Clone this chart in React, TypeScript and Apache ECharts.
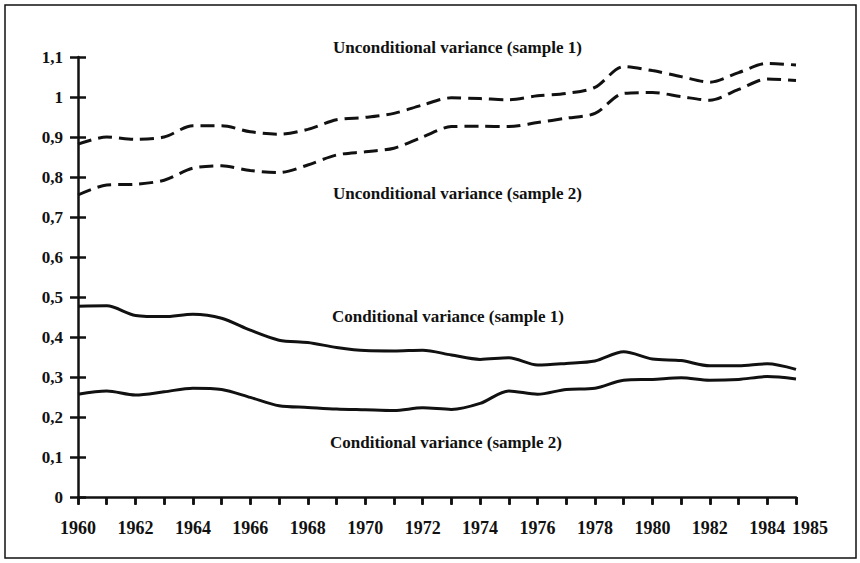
import React, { useEffect, useRef } from "react";
import * as echarts from "echarts";

const years = [1960, 1961, 1962, 1963, 1964, 1965, 1966, 1967, 1968, 1969, 1970, 1971, 1972,
  1973, 1974, 1975, 1976, 1977, 1978, 1979, 1980, 1981, 1982, 1983, 1984, 1985];

const uncondSample1 = [0.882, 0.9, 0.894, 0.9, 0.928, 0.928, 0.913, 0.907, 0.919, 0.943, 0.949, 0.959, 0.98,
  0.998, 0.996, 0.993, 1.003, 1.009, 1.024, 1.076, 1.066, 1.051, 1.037, 1.061, 1.084, 1.08];

const uncondSample2 = [0.755, 0.78, 0.782, 0.792, 0.822, 0.828, 0.816, 0.811, 0.83, 0.855, 0.863, 0.872, 0.9,
  0.926, 0.927, 0.926, 0.936, 0.947, 0.959, 1.009, 1.011, 1.001, 0.992, 1.019, 1.045, 1.041];

const condSample1 = [0.477, 0.478, 0.454, 0.451, 0.457, 0.447, 0.417, 0.392, 0.386, 0.374, 0.366, 0.365, 0.367,
  0.355, 0.344, 0.348, 0.33, 0.334, 0.34, 0.363, 0.345, 0.341, 0.328, 0.328, 0.333, 0.319];

const condSample2 = [0.257, 0.265, 0.255, 0.263, 0.272, 0.269, 0.249, 0.228, 0.224, 0.22, 0.218, 0.216, 0.223,
  0.219, 0.234, 0.265, 0.257, 0.269, 0.272, 0.292, 0.294, 0.298, 0.292, 0.294, 0.301, 0.295];

const annotations = [
  "Unconditional variance (sample 1)",
  "Unconditional variance (sample 2)",
  "Conditional variance (sample 1)",
  "Conditional variance (sample 2)",
];

const FONT = "Liberation Serif";
const INK = "#111";

export default function App() {
  const ref = useRef<HTMLDivElement>(null);
  useEffect(() => {
    if (!ref.current) return;
    const chart = echarts.init(ref.current, null, { renderer: "svg" });
    const pairs = (vals: number[]) => years.map((y, i) => [y, vals[i]]);
    const lineSeries = (name: string, vals: number[], dashed: boolean) => ({
      name,
      type: "line",
      data: pairs(vals),
      smooth: 0.3,
      symbol: "none",
      lineStyle: { color: INK, width: 3, type: dashed ? [14, 7] : "solid" },
    });
    const baseX = {
      type: "value",
      min: 1960,
      max: 1985,
      interval: 1,
      splitLine: { show: false },
    };
    const baseY = {
      type: "value",
      min: 0,
      max: 1.1,
      interval: 0.1,
      splitLine: { show: false },
    };
    chart.setOption({
      animation: false,
      backgroundColor: "#fff",
      textStyle: { fontFamily: FONT },
      grid: { left: 78, top: 57, right: 64, bottom: 66, containLabel: false },
      xAxis: [
        {
          ...baseX,
          axisLine: { show: true, lineStyle: { color: INK, width: 2.5 } },
          axisTick: { show: true, inside: false, length: 8, lineStyle: { color: INK, width: 2.5 } },
          axisLabel: {
            margin: 22,
            color: INK,
            fontFamily: FONT,
            fontSize: 18,
            fontWeight: "bold",
            formatter: (v: number) => {
              if (v === 1985) return "{r|1985}";
              return v % 2 === 0 ? String(v) : "";
            },
            rich: {
              r: { padding: [0, 0, 0, 28], fontFamily: FONT, fontSize: 18, fontWeight: "bold", color: INK },
            },
          },
        },
        {
          ...baseX,
          axisLine: { show: false },
          axisTick: { show: true, inside: true, length: 7, lineStyle: { color: INK, width: 2.5 } },
          axisLabel: { show: false },
        },
      ],
      yAxis: [
        {
          ...baseY,
          axisLine: { show: true, lineStyle: { color: INK, width: 2.5 } },
          axisTick: { show: true, inside: false, length: 8, lineStyle: { color: INK, width: 2.5 } },
          axisLabel: {
            margin: 15,
            color: INK,
            fontFamily: FONT,
            fontSize: 17,
            fontWeight: "bold",
            formatter: (v: number) => String(+v.toFixed(1)).replace(".", ","),
          },
        },
        {
          ...baseY,
          position: "left",
          axisLine: { show: false },
          axisTick: { show: true, inside: true, length: 8, lineStyle: { color: INK, width: 2.5 } },
          axisLabel: { show: false },
        },
      ],
      series: [
        lineSeries(annotations[0], uncondSample1, true),
        lineSeries(annotations[1], uncondSample2, true),
        lineSeries(annotations[2], condSample1, false),
        lineSeries(annotations[3], condSample2, false),
      ],
      graphic: [
        {
          type: "rect",
          shape: { x: 5, y: 5, width: 851, height: 553 },
          style: { fill: "none", stroke: INK, lineWidth: 1.5 },
          silent: true,
        },
        ...[
          [333, 47],
          [333, 193],
          [332, 316],
          [330, 442],
        ].map((p, i) => ({
          type: "text",
          x: p[0],
          y: p[1],
          style: {
            text: annotations[i],
            fill: INK,
            fontFamily: FONT,
            fontSize: 17,
            fontWeight: "bold",
            verticalAlign: "middle",
          },
          silent: true,
        })),
      ],
    });
    return () => chart.dispose();
  }, []);
  return (
    <div
      ref={ref}
      style={{ position: "fixed", left: 0, top: 0, width: 860, height: 563 }}
    />
  );
}
